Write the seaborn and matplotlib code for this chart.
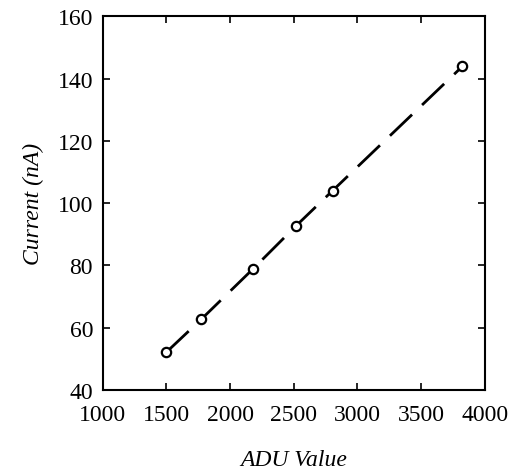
import matplotlib
matplotlib.use("Agg")
import matplotlib.pyplot as plt
import seaborn as sns
import pandas as pd

adu = [1500, 1775, 2180, 2520, 2805, 3825]
current = [52.2, 62.8, 78.9, 92.8, 104.0, 143.9]

sns.set_theme(style="ticks")
plt.rcParams['font.family'] = ['Liberation Serif', 'DejaVu Serif']

df = pd.DataFrame({"ADU": adu, "Current": current})

fig = plt.figure(figsize=(5.14, 4.77), dpi=100)
ax = fig.add_axes([0.200, 0.180, 0.743, 0.784])
sns.lineplot(data=df, x="ADU", y="Current", ax=ax, color="black", linewidth=2,
             dashes=False, linestyle=(0, (11, 5)))
sns.scatterplot(data=df, x="ADU", y="Current", ax=ax, marker="o", s=45,
                facecolor="white", edgecolor="black", linewidth=1.6, zorder=3)

ax.set_xlim(1000, 4000)
ax.set_ylim(40, 160)
ax.set_xticks([1000, 1500, 2000, 2500, 3000, 3500, 4000])
ax.set_yticks([40, 60, 80, 100, 120, 140, 160])
ax.tick_params(direction="in", top=True, right=True, labelsize=17, length=5, width=1.2,
               colors="black")
ax.tick_params(axis="x", pad=10)
ax.tick_params(axis="y", pad=7)
for s in ax.spines.values():
    s.set_linewidth(1.5)
    s.set_color("black")
ax.set_xlabel("ADU Value", fontsize=17, style="italic", labelpad=17, color="black")
ax.set_ylabel("Current (nA)", fontsize=17, style="italic", labelpad=10, color="black")
fig.savefig("out.png", dpi=100)
